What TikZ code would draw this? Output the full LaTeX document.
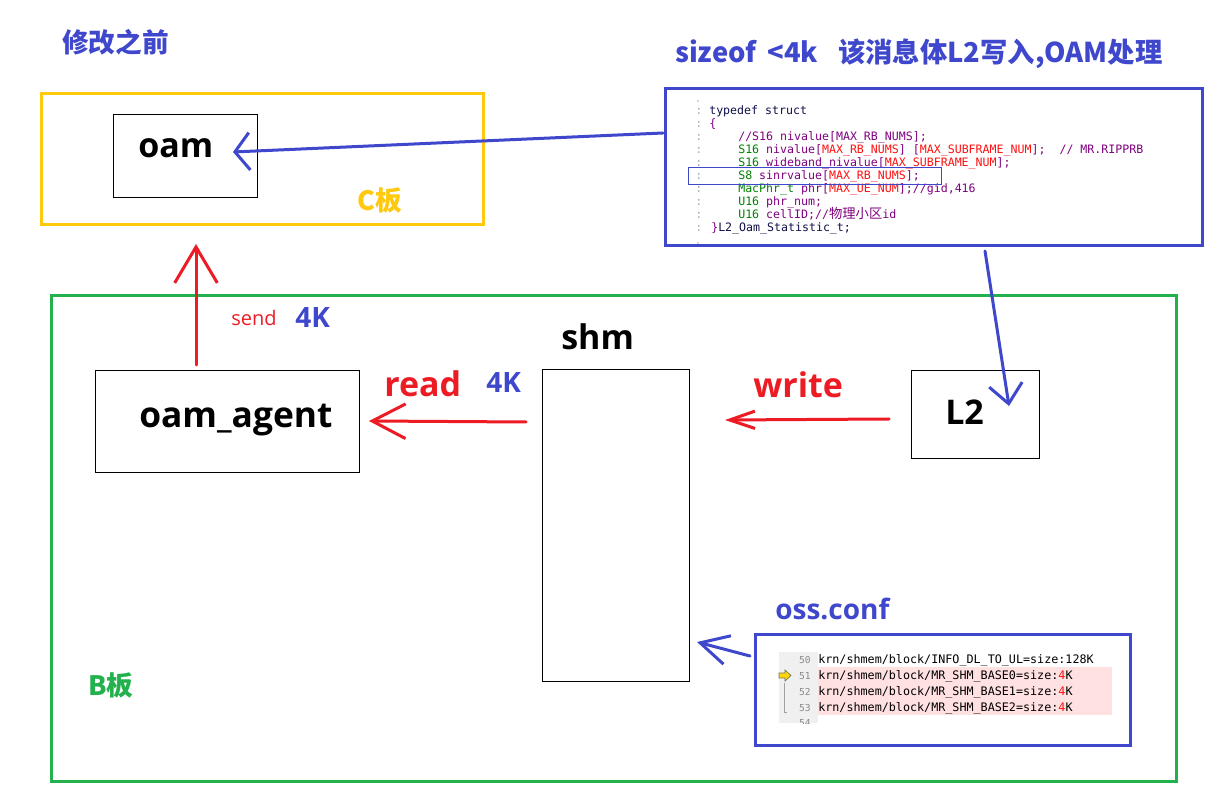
\documentclass[tikz,border=0pt]{standalone}
\usepackage{fontspec}
\setmainfont{Open Sans}
\newfontfamily\cjk{Noto Sans CJK SC}
\newfontfamily\mono{DejaVu Sans Mono}
\usetikzlibrary{arrows.meta}
\definecolor{ublue}{HTML}{3F48CC}
\definecolor{ured}{HTML}{ED1C24}
\definecolor{ugreen}{HTML}{22B14C}
\definecolor{uyellow}{HTML}{FFC90E}
\definecolor{cpurple}{HTML}{800080}
\definecolor{cgreen}{HTML}{008000}
\definecolor{cred}{HTML}{FF1010}
\definecolor{cnavy}{HTML}{10104A}
\definecolor{gutter}{HTML}{F0F0F0}
\definecolor{pinkbg}{HTML}{FFE1E1}
\definecolor{lnum}{HTML}{8A8A8A}
\newcommand{\ty}[1]{\textcolor{cgreen}{#1}}
\newcommand{\mc}[1]{\textcolor{cred}{#1}}
\begin{document}
\begin{tikzpicture}[x=0.75pt,y=-0.75pt,
  box/.style={draw=black, line width=0.75pt, inner sep=0pt, outer sep=0pt},
  frame/.style={line width=2.25pt, inner sep=0pt, outer sep=0pt},
  lbl/.style={anchor=base west, inner sep=0pt, font=\bfseries\fontsize{25.5}{30}\selectfont},
  cjklbl/.style={anchor=base west, inner sep=0pt, font=\cjk\bfseries\fontsize{20}{24}\selectfont},
  codeln/.style={anchor=base west, inner sep=0pt, text=cpurple, font=\mono\fontsize{8.7}{10}\selectfont},
  confln/.style={anchor=base west, inner sep=0pt, text=black, font=\mono\fontsize{8.8}{10}\selectfont},
  numln/.style={anchor=base east, inner sep=0pt, text=lnum, font=\mono\fontsize{7.2}{8}\selectfont},
  arr/.style={line width=2.25pt, line cap=round}
]
\useasboundingbox (0,0) rectangle (1225,798);
\fill[white] (0,0) rectangle (1225,798);

% frames
\node[frame, draw=uyellow, minimum width=331.5pt, minimum height=98.25pt] (cboard) at (262,159.5) {};
\node[frame, draw=ugreen, minimum width=843.75pt, minimum height=363.75pt] (bboard) at (613.5,538.5) {};
\node[frame, draw=ublue, minimum width=402.75pt, minimum height=117.75pt] (code) at (933.5,167.5) {};
\node[frame, draw=ublue, minimum width=281.25pt, minimum height=83.25pt] (conf) at (942.5,689.5) {};

% boxes
\node[box, minimum width=108pt, minimum height=62.25pt] (oam) at (185,156.5) {};
\node[box, minimum width=198pt, minimum height=76.5pt] (agent) at (227,422) {};
\node[box, minimum width=110.25pt, minimum height=233.25pt] (shm) at (615.5,525.5) {};
\node[box, minimum width=96pt, minimum height=66pt] (l2) at (975,415) {};

% labels
\node[cjklbl, text=ublue] (title) at (62,53) {修改之前};
\node[anchor=base west, inner sep=0pt, text=ublue, font=\cjk\bfseries\fontsize{20.5}{24}\selectfont] (head) at (675,63) {sizeof \,<4k\hspace{15pt}该消息体L2写入,OAM处理};
\node[lbl] (oamt) at (138,158) {oam};
\node[cjklbl, text=uyellow] (ctext) at (357,211) {C板};
\node[anchor=base west, inner sep=0pt, text=ured, font=\fontsize{15}{18}\selectfont] (send) at (231,326) {send};
\node[anchor=base west, inner sep=0pt, text=ublue, font=\bfseries\fontsize{21}{25}\selectfont] (sendk) at (295,328) {4K};
\node[lbl] (shmt) at (561,350) {shm};
\node[lbl, font=\bfseries\fontsize{26.5}{30}\selectfont] (agentt) at (139,428) {oam\_agent};
\node[lbl, text=ured] (readt) at (384,397) {read};
\node[anchor=base west, inner sep=0pt, text=ublue, font=\bfseries\fontsize{21}{25}\selectfont] (readk) at (486,393) {4K};
\node[lbl, text=ured] (writet) at (753,398) {write};
\node[lbl] (l2t) at (945,425) {L2};
\node[anchor=base west, inner sep=0pt, text=ublue, font=\bfseries\fontsize{21}{25}\selectfont] (confname) at (775,619) {oss.conf};
\node[cjklbl, text=ugreen] (btext) at (88,695) {B板};

% code listing
\foreach \i in {0,...,9} {
  \node[anchor=base west, inner sep=0pt, text=lnum!70, font=\mono\fontsize{8.7}{10}\selectfont] at (695,{115+13*\i}) {:};
}
\fill[lnum!70] (698,101) circle (0.9);
\fill[lnum!70] (698,243) circle (0.9);
\node[codeln, text=cnavy] (c0) at (709,115) {typedef struct};
\node[codeln] (c1) at (709,128) {\{};
\node[codeln] (c2) at (738,141) {//S16 nivalue[MAX\_RB\_NUMS];};
\node[codeln] (c3) at (738,154) {\ty{S16} nivalue[\mc{MAX\_RB\_NUMS}] [\mc{MAX\_SUBFRAME\_NUM}];\ \ // MR.RIPPRB};
\node[codeln] (c4) at (738,167) {\ty{S16} wideband\_nivalue[\mc{MAX\_SUBFRAME\_NUM}];};
\node[codeln] (c5) at (738,180) {\ty{S8} sinrvalue[\mc{MAX\_RB\_NUMS}];};
\node[codeln] (c6) at (738,193) {\ty{MacPhr\_t} phr[\mc{MAX\_UE\_NUM}];//gid,416};
\node[codeln] (c7) at (738,206) {\ty{U16} phr\_num;};
\node[codeln] (c8) at (738,219) {\ty{U16} cellID;//{\cjk\fontsize{10}{10}\selectfont 物理小区}id};
\node[codeln, text=cnavy] (c9) at (711,232) {\textcolor{cpurple}{\}}L2\_Oam\_Statistic\_t;};
\node[draw=ublue, line width=0.75pt, inner sep=0pt, minimum width=189.75pt, minimum height=12.75pt] (hl) at (814.5,176.5) {};

% conf listing
\fill[gutter] (779,652) rectangle (818,723);
\fill[pinkbg] (818,667) rectangle (1112,715);
\node[numln] (n50) at (811,663) {50};
\node[numln] (n51) at (811,679) {51};
\node[numln] (n52) at (811,695) {52};
\node[numln] (n53) at (811,711) {53};
\begin{scope}
  \clip (779,715) rectangle (818,723);
  \node[numln] (n54) at (811,726) {54};
\end{scope}
\node[confln] (f50) at (818,663) {krn/shmem/block/INFO\_DL\_TO\_UL=size:128K};
\node[confln] (f51) at (818,679) {krn/shmem/block/MR\_SHM\_BASE0=size:\textcolor{cred}{4}K};
\node[confln] (f52) at (818,695) {krn/shmem/block/MR\_SHM\_BASE1=size:\textcolor{cred}{4}K};
\node[confln] (f53) at (818,711) {krn/shmem/block/MR\_SHM\_BASE2=size:\textcolor{cred}{4}K};
\filldraw[fill=uyellow!80!yellow, draw=black!60!yellow, line width=0.5pt]
  (779,673) -- (785,673) -- (785,670) -- (791,675.5) -- (785,681) -- (785,678) -- (779,678) -- cycle;
\draw[lnum!80, line width=0.6pt] (784,683) -- (784,712) -- (787,712);

% connectors
\coordinate (a1s) at (663,133); \coordinate (a1e) at (233,152);
\draw[arr, ublue, -{Straight Barb[length=11pt,width=28pt]}] (a1s) -- (a1e);
\coordinate (a2s) at (196,365); \coordinate (a2e) at (196,244);
\draw[arr, ured, -{Straight Barb[length=27pt,width=32pt]}] (a2s) -- (a2e);
\coordinate (a3s) at (526,422); \coordinate (a3e) at (369,421);
\draw[arr, ured, -{Straight Barb[length=25pt,width=26pt]}] (a3s) -- (a3e);
\coordinate (a4s) at (889,419); \coordinate (a4e) at (725,420);
\draw[arr, ured, -{Straight Barb[length=19pt,width=13pt]}] (a4s) -- (a4e);
\coordinate (a5s) at (985,251); \coordinate (a5e) at (1009,406);
\draw[arr, ublue, -{Straight Barb[length=14.5pt,width=25pt]}] (a5s) -- (a5e);
\coordinate (a6s) at (750,656); \coordinate (a6e) at (697,642);
\draw[arr, ublue, -{Straight Barb[length=21pt,width=22pt]}] (a6s) -- (a6e);
\end{tikzpicture}
\end{document}
